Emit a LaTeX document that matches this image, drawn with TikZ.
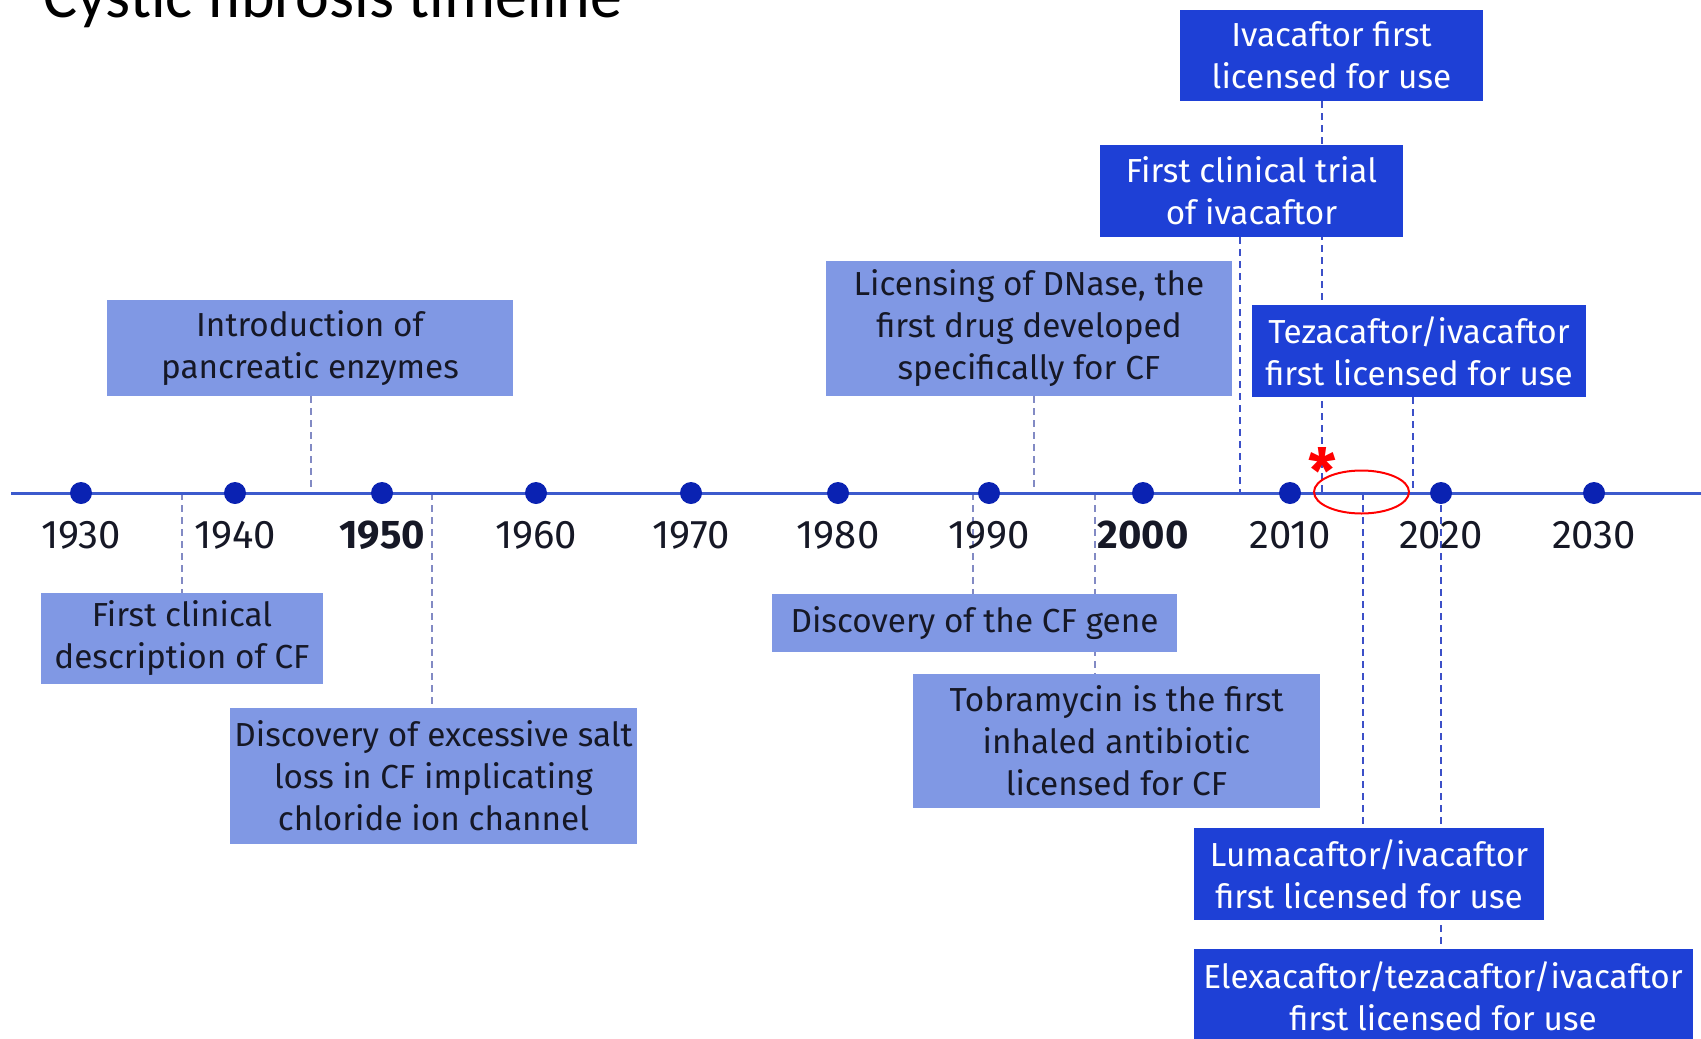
\documentclass[tikz,border=0pt]{standalone}
\usepackage{fontspec}
\setmainfont{Fira Sans}
\newfontfamily\titlefont{Carlito}
\usetikzlibrary{calc,backgrounds}
\definecolor{lightbox}{RGB}{128,152,228}
\definecolor{darkbox}{RGB}{30,64,214}
\definecolor{dotblue}{RGB}{10,34,178}
\definecolor{axisblue}{RGB}{60,90,205}
\definecolor{connlight}{RGB}{130,138,196}
\definecolor{conndark}{RGB}{60,80,200}
\definecolor{txtdark}{RGB}{22,24,38}
\tikzset{
  evbox/.style={inner sep=0pt, align=center, font=\fontsize{33.3}{42}\selectfont},
  lbox/.style={evbox, fill=lightbox, text=txtdark},
  dbox/.style={evbox, fill=darkbox, text=white},
  connL/.style={draw=connlight, line width=2.2pt, dash pattern=on 7pt off 5pt},
  connD/.style={draw=conndark, line width=2.4pt, dash pattern=on 7pt off 5pt},
  yeardot/.style={circle, fill=dotblue, inner sep=0pt, minimum size=22pt},
  yearlab/.style={anchor=base, text=txtdark, font=\fontsize{40}{44}\selectfont},
}
\begin{document}
\begin{tikzpicture}[x=1pt,y=-1pt]
\useasboundingbox (0,0) rectangle (1701,1039);
% title
\node[anchor=base west, inner sep=0pt, font=\titlefont\fontsize{64}{70}\selectfont] (title) at (43,17) {Cystic fibrosis timeline};
% axis coordinates of connectors
\coordinate (aL) at (11,493);
\coordinate (aR) at (1701,493);
\coordinate (a1) at (311,493);
\coordinate (a2) at (182,493);
\coordinate (a3) at (432,493);
\coordinate (a4) at (1034,493);
\coordinate (a5) at (973,493);
\coordinate (a6) at (1095,493);
\coordinate (a7) at (1322,493);
\coordinate (a8) at (1240,493);
\coordinate (a9) at (1413,493);
\coordinate (a10) at (1363,493);
\coordinate (a11) at (1441,493);
% boxes
\path
  (310,348) node[lbox, minimum width=406pt, minimum height=96pt] (b1) {Introduction of\\pancreatic enzymes}
  (182,638.5) node[lbox, minimum width=282pt, minimum height=91pt] (b2) {First clinical\\description of CF}
  (433.5,776) node[lbox, minimum width=407pt, minimum height=136pt] (b3) {Discovery of excessive salt\\loss in CF implicating\\chloride ion channel}
  (1029,328.5) node[lbox, minimum width=406pt, minimum height=135pt] (b4) {Licensing of DNase, the\\first drug developed\\specifically for CF}
  (974.5,623) node[lbox, minimum width=405pt, minimum height=58pt] (b5) {Discovery of the CF gene}
  (1116.5,741) node[lbox, minimum width=407pt, minimum height=134pt] (b6) {Tobramycin is the first\\inhaled antibiotic\\licensed for CF}
  (1331.5,55.5) node[dbox, minimum width=303pt, minimum height=91pt] (b7) {Ivacaftor first\\licensed for use}
  (1251.5,191) node[dbox, minimum width=303pt, minimum height=92pt] (b8) {First clinical trial\\of ivacaftor}
  (1419,351) node[dbox, minimum width=334pt, minimum height=92pt] (b9) {Tezacaftor/ivacaftor\\first licensed for use}
  (1369,874) node[dbox, minimum width=350pt, minimum height=92pt] (b10) {Lumacaftor/ivacaftor\\first licensed for use}
  (1443,996) node[dbox, minimum width=499pt, minimum height=94pt] (b11) {Elexacaftor/tezacaftor/ivacaftor\\first licensed for use};
% connectors and axis behind
\begin{pgfonlayer}{background}
\draw[connL] (b1.south -| a1) -- (a1);
\draw[connL] (a2) -- (b2.north -| a2);
\draw[connL] (a3) -- (b3.north -| a3);
\draw[connL] (b4.south -| a4) -- (a4);
\draw[connL] (a5) -- (b5.north -| a5);
\draw[connL] (a6) -- (b6.north -| a6);
\draw[connD] (b7.south -| a7) -- (a7);
\draw[connD] (b8.south -| a8) -- (a8);
\draw[connD] (b9.south -| a9) -- (a9);
\draw[connD] (a10) -- (b10.north -| a10);
\draw[connD] (a11) -- (b11.north -| a11);
\draw[axisblue, line width=3pt] (aL) -- (aR);
\end{pgfonlayer}
% dots and years
\foreach \yr/\xx/\isbold in {1930/81/0,1940/235/0,1950/382/1,1960/536/0,1970/691/0,1980/838/0,1990/989/0,2000/1143/1,2010/1290/0,2020/1441/0,2030/1594/0}{
  \node[yeardot] (d\yr) at (\xx,493) {};
  \ifnum\isbold=1
    \node[yearlab, font=\fontsize{40}{44}\selectfont\bfseries] (y\yr) at (\xx,548) {\yr};
  \else
    \node[yearlab] (y\yr) at (\xx,548) {\yr};
  \fi
}
% red markers
\node[text=red, font=\fontsize{62}{62}\selectfont\bfseries, inner sep=0pt] (ast) at (1322,470) {*};
\draw[red, line width=2pt] (1361.5,492) ellipse [x radius=47.5, y radius=21.5];
\end{tikzpicture}
\end{document}
